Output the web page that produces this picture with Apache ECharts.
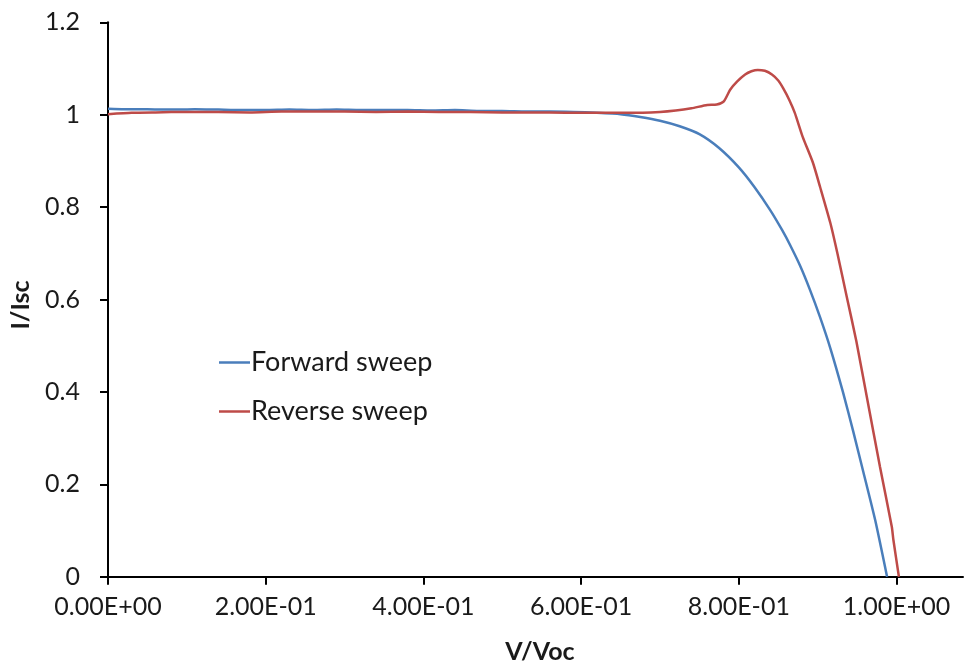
<!DOCTYPE html>
<html>
<head>
<meta charset="utf-8">
<script src="https://cdn.jsdelivr.net/npm/echarts@6/dist/echarts.min.js"></script>
<style>
  html, body { margin: 0; padding: 0; background: #ffffff; }
  #chart { width: 964px; height: 668px; }
</style>
</head>
<body>
<div id="chart"></div>
<script>
// Normalised J-V curves: current over short-circuit current vs voltage over open-circuit voltage
const seriesNames = ['Forward sweep', 'Reverse sweep'];

const forwardV = [0, 0.02, 0.05, 0.08, 0.11, 0.14, 0.17, 0.20, 0.23, 0.26, 0.29, 0.32, 0.35, 0.38, 0.41, 0.44, 0.47, 0.50, 0.53, 0.56, 0.59, 0.62, 0.65, 0.675, 0.70, 0.725, 0.75, 0.775, 0.80, 0.82, 0.84, 0.855, 0.865, 0.878, 0.89, 0.903, 0.916, 0.932, 0.945, 0.958, 0.973, 0.988];
const forwardI = [1.013, 1.012, 1.012, 1.011, 1.012, 1.011, 1.010, 1.010, 1.011, 1.010, 1.011, 1.010, 1.010, 1.010, 1.009, 1.010, 1.008, 1.008, 1.007, 1.007, 1.006, 1.004, 1.001, 0.995, 0.987, 0.975, 0.958, 0.928, 0.886, 0.843, 0.793, 0.750, 0.718, 0.672, 0.622, 0.562, 0.495, 0.400, 0.315, 0.226, 0.122, 0.0];

const reverseV = [0, 0.03, 0.06, 0.10, 0.14, 0.18, 0.22, 0.26, 0.30, 0.34, 0.38, 0.42, 0.46, 0.50, 0.54, 0.58, 0.62, 0.66, 0.70, 0.72, 0.74, 0.76, 0.772, 0.781, 0.789, 0.798, 0.808, 0.816, 0.824, 0.833, 0.842, 0.850, 0.856, 0.864, 0.871, 0.881, 0.894, 0.903, 0.916, 0.925, 0.937, 0.949, 0.963, 0.979, 0.994, 0.996, 1.003];
const reverseI = [1.001, 1.004, 1.005, 1.006, 1.006, 1.005, 1.007, 1.007, 1.007, 1.006, 1.007, 1.006, 1.006, 1.005, 1.005, 1.004, 1.004, 1.004, 1.006, 1.009, 1.014, 1.021, 1.022, 1.029, 1.054, 1.072, 1.087, 1.094, 1.097, 1.095, 1.087, 1.074, 1.058, 1.032, 1.004, 0.952, 0.896, 0.844, 0.766, 0.700, 0.605, 0.510, 0.383, 0.238, 0.108, 0.080, 0.0];

// x axis runs a little past 1.0; ticks and labels only at these values
const xTickValues = [0, 0.2, 0.4, 0.6, 0.8, 1.0];
const xRange = { min: 0, max: 1.0843 };
const yTicks = { min: 0, max: 1.2, step: 0.2 };
const xTitle = 'V/Voc';
const yTitle = 'I/Isc';

const FONT = 'Lato';
const INK = '#1a1a1a';

function pairs(xs, ys) {
  return xs.map((x, i) => [x, ys[i]]);
}

// Excel-style scientific labels, e.g. 2.00E-01
function sci(v) {
  if (Math.abs(v) < 1e-12) return '0.00E+00';
  const exp = Math.floor(Math.log10(Math.abs(v)) + 1e-9);
  const mant = v / Math.pow(10, exp);
  const sign = exp < 0 ? '-' : '+';
  const e = String(Math.abs(exp)).padStart(2, '0');
  return mant.toFixed(2) + 'E' + sign + e;
}

const chart = echarts.init(document.getElementById('chart'), null, { renderer: 'canvas' });

const axisLine = { show: true, lineStyle: { color: '#000', width: 2 } };
const axisTick = { show: true, inside: false, length: 8, lineStyle: { color: '#000', width: 2 } };

chart.setOption({
  animation: false,
  backgroundColor: '#ffffff',
  textStyle: { fontFamily: FONT, color: INK },
  grid: { left: 108, top: 22.3, right: 1, height: 554.4, containLabel: false },
  xAxis: {
    type: 'value',
    min: xRange.min, max: xRange.max,
    axisLine: axisLine,
    axisTick: Object.assign({}, axisTick, { customValues: xTickValues }),
    splitLine: { show: false },
    axisLabel: { fontFamily: FONT, fontSize: 25, color: INK, margin: 18, formatter: sci,
      customValues: xTickValues }
  },
  yAxis: {
    type: 'value',
    min: yTicks.min, max: yTicks.max, interval: yTicks.step,
    axisLine: axisLine,
    axisTick: axisTick,
    splitLine: { show: false },
    axisLabel: { fontFamily: FONT, fontSize: 25, color: INK, margin: 28,
      formatter: v => String(Math.round(v * 10) / 10) }
  },
  legend: {
    orient: 'vertical',
    left: 214, top: 344,
    icon: 'rect',
    itemWidth: 31, itemHeight: 2.5,
    itemGap: 22,
    textStyle: { fontFamily: FONT, fontSize: 27, color: INK, padding: [0, 0, 0, -4] },
    data: seriesNames
  },
  graphic: [
    { type: 'text', x: 540, y: 652,
      style: { text: xTitle, align: 'center', verticalAlign: 'middle', font: 'bold 25px ' + FONT, fill: INK } },
    { type: 'text', x: 21, y: 305, rotation: Math.PI / 2,
      style: { text: yTitle, align: 'center', verticalAlign: 'middle', font: 'bold 25px ' + FONT, fill: INK } }
  ],
  series: [
    {
      name: seriesNames[0], type: 'line', data: pairs(forwardV, forwardI),
      showSymbol: false, smooth: 0.2, clip: false,
      lineStyle: { color: '#4a7ebb', width: 2.5 }, itemStyle: { color: '#4a7ebb' }
    },
    {
      name: seriesNames[1], type: 'line', data: pairs(reverseV, reverseI),
      showSymbol: false, smooth: 0.2, clip: false,
      lineStyle: { color: '#be4b48', width: 2.5 }, itemStyle: { color: '#be4b48' }
    }
  ]
});
</script>
</body>
</html>
